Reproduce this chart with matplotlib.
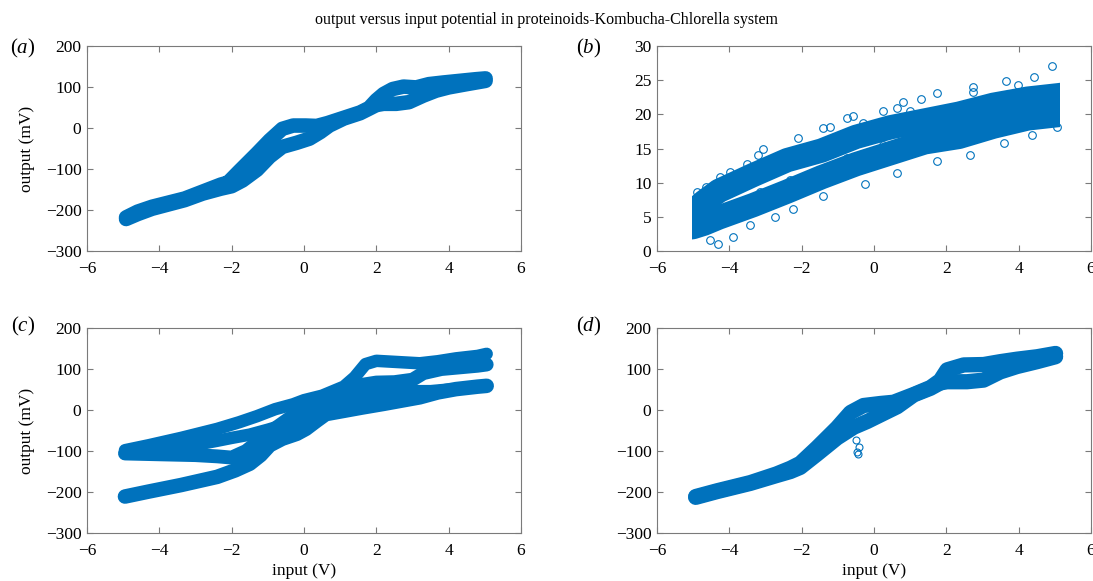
import matplotlib
matplotlib.use('Agg')
import matplotlib.pyplot as plt
from matplotlib.patches import Rectangle

plt.rcParams['font.family'] = ['Liberation Serif', 'DejaVu Serif']
plt.rcParams['mathtext.fontset'] = 'custom'
plt.rcParams['mathtext.rm'] = 'Liberation Serif'
plt.rcParams['mathtext.it'] = 'Liberation Serif:italic'

blue = '#0072BD'
edge = '#7a7a7a'

# (a) forward / backward sweeps
a_fwd_x = [-4.92, -4.6, -4.2, -3.3, -2.8, -2.3, -2.0, -1.7, -1.3, -0.95, -0.6, -0.2, 0.15, 0.45,
           0.7, 1.1, 1.55, 1.8, 2.0, 2.2, 2.55, 2.9, 3.3, 3.65, 4.0, 4.5, 5.02]
a_fwd_y = [-222, -210, -197, -176, -160, -148, -142, -128, -102, -70, -46, -36, -26, -10,
           6, 23, 36, 47, 56, 59, 59, 63, 79, 91, 99, 107, 115]
a_bwd_x = [5.02, 4.75, 4.3, 3.85, 3.45, 3.1, 2.75, 2.45, 2.2, 2.0, 1.8, 1.55, 1.1, 0.65,
           0.35, 0.05, -0.3, -0.6, -0.95, -1.3, -1.8, -2.1, -2.3, -2.8, -3.3, -4.2, -4.6, -4.92]
a_bwd_y = [121, 119, 115, 111, 107, 99, 101, 95, 83, 68, 49, 38, 25, 12,
           5, 6, 6, -2, -30, -62, -106, -133, -138, -155, -172, -192, -204, -218]

# (b) two branches plus scattered points
b_up_x = [-5.3, -5.0, -4.7, -4.29, -3.35, -2.40, -1.45, -0.50, 0.45, 1.40, 2.35, 3.30, 4.25, 5.10, 5.4]
b_up_y = [5.2, 5.8, 7.2, 8.8, 11.1, 13.3, 14.7, 16.7, 18.1, 19.1, 20.1, 21.4, 22.3, 22.8, 23.0]
b_lo_x = [-5.3, -5.0, -4.7, -4.29, -3.35, -2.40, -1.45, -0.50, 0.45, 1.40, 2.35, 3.30, 4.25, 5.10, 5.4]
b_lo_y = [3.3, 3.5, 4.0, 4.9, 6.7, 8.7, 10.8, 12.7, 14.3, 15.9, 16.7, 18.2, 19.4, 19.9, 20.1]
b_pts_x = [4.91, 4.42, 3.65, 3.99, 2.73, 2.73, 1.73, 1.29, 0.81, 0.63, 0.26, 0.99, -0.76, -0.57,
           -0.30, -1.40, -1.22, -2.09, -3.08, -3.20, -3.52, -3.98, -4.26, -4.65, -4.90, -4.30,
           -3.89, -4.53, -3.43, -2.74, -2.23, -1.40, -0.25, 0.63, 1.73, 2.65, 3.58, 4.36, 5.05,
           -1.77, -0.76, 0.26, -2.32, -3.15]
b_pts_y = [27.1, 25.4, 24.9, 24.3, 24.0, 23.3, 23.1, 22.2, 21.8, 21.0, 20.5, 20.5, 19.4, 19.7,
           18.7, 18.0, 18.2, 16.6, 14.9, 14.1, 12.7, 11.5, 10.9, 9.4, 8.6, 1.0,
           2.1, 1.6, 3.8, 5.0, 6.2, 8.0, 9.8, 11.4, 13.1, 14.0, 15.8, 17.0, 18.2,
           11.1, 13.6, 15.5, 10.4, 8.7]

# (c) several crossing paths
c_p1_x = [-4.95, -4.3, -3.4, -2.4, -1.8, -1.3, -0.8, -0.3, 0.0, 0.5, 1.1, 1.4, 1.7, 2.0, 2.6,
          3.2, 3.7, 4.2, 4.8, 5.05]
c_p1_y = [-98, -86, -68, -46, -30, -15, 2, 14, 24, 35, 57, 80, 112, 120, 117,
          114, 119, 126, 132, 137]
c_p2_x = [-4.95, -4.0, -3.0, -2.4, -2.0, -1.6, -1.2, -0.8, -0.4, 0.0, 0.5, 1.0, 1.5, 2.0, 2.5,
          3.0, 3.3, 3.8, 4.3, 4.8, 5.05]
c_p2_y = [-106, -108, -110, -113, -116, -100, -72, -45, -20, 5, 25, 45, 60, 67, 68,
          74, 90, 100, 104, 108, 111]
c_p3_x = [-4.95, -4.3, -3.4, -2.4, -1.9, -1.5, -1.2, -0.95, -0.6, -0.2, 0.05, 0.35, 0.6, 1.1,
          1.6, 2.2, 2.7, 3.2, 3.7, 4.2, 4.8, 5.05]
c_p3_y = [-211, -199, -183, -163, -147, -131, -110, -86, -70, -58, -46, -26, -10, -2,
          6, 15, 23, 31, 43, 51, 57, 59]
c_p4_x = [-4.95, -4.0, -3.0, -2.4, -2.0, -1.5, -1.0, -0.5, 0.0, 0.5, 1.0, 1.5, 2.0, 2.5, 3.0,
          3.5, 4.0]
c_p4_y = [-102, -95, -85, -75, -68, -60, -48, -35, -18, 0, 20, 35, 42, 45, 46,
          46, 50]

# (d) forward / backward sweeps plus a few stray points
d_fwd_x = [-4.93, -4.34, -3.42, -2.7, -2.31, -2.04, -1.58, -1.02, -0.56, -0.19, 0.27, 0.64,
           1.1, 1.56, 1.83, 2.02, 2.57, 3.03, 3.49, 3.95, 4.51, 5.02]
d_fwd_y = [-213, -199, -179, -160, -150, -140, -108, -68, -42, -28, -8, 8,
           37, 53, 66, 69, 69, 73, 93, 106, 118, 130]
d_bwd_x = [5.02, 4.51, 3.95, 3.49, 3.03, 2.48, 2.02, 1.83, 1.56, 1.1, 0.54, 0.18, -0.29,
           -0.65, -1.02, -1.58, -2.04, -2.31, -2.7, -3.42, -4.34, -4.93]
d_bwd_y = [138, 130, 124, 118, 111, 110, 98, 72, 55, 38, 19, 16, 11,
           -6, -43, -92, -130, -142, -156, -177, -197, -211]
d_pts_x = [-0.49, -0.41, -0.45, -0.47]
d_pts_y = [-73, -89, -108, -102]

fig = plt.figure(figsize=(10.93, 5.81), dpi=100)
rects = {'a': [0.0796, 0.5680, 0.3971, 0.3528], 'b': [0.6011, 0.5680, 0.3971, 0.3528],
         'c': [0.0796, 0.0826, 0.3971, 0.3528], 'd': [0.6011, 0.0826, 0.3971, 0.3528]}
axs = {k: fig.add_axes(r) for k, r in rects.items()}


def band(ax, x, y, w, cap='round'):
    ln, = ax.plot(x, y, color=blue, lw=w, solid_capstyle=cap, solid_joinstyle='round')
    return ln


band(axs['a'], a_fwd_x, a_fwd_y, 10.5)
band(axs['a'], a_bwd_x, a_bwd_y, 10.5)

# input limited to about +-5.1 V -> flat ends
clip = Rectangle((-5.03, -10), 10.18, 60, transform=axs['b'].transData)
for xs, ys in [(b_up_x, b_up_y), (b_lo_x, b_lo_y)]:
    band(axs['b'], xs, ys, 17.5, cap='butt').set_clip_path(clip)
axs['b'].plot(b_pts_x, b_pts_y, 'o', ms=5.5, mfc='none', mec=blue, mew=0.8)

band(axs['c'], c_p1_x, c_p1_y, 9)
band(axs['c'], c_p2_x, c_p2_y, 10)
band(axs['c'], c_p3_x, c_p3_y, 10.5)
band(axs['c'], c_p4_x, c_p4_y, 9)

band(axs['d'], d_fwd_x, d_fwd_y, 11)
band(axs['d'], d_bwd_x, d_bwd_y, 11)
axs['d'].plot(d_pts_x, d_pts_y, 'o', ms=5, mfc='none', mec=blue, mew=0.8)

for k, ax in axs.items():
    ax.set_xlim(-6, 6)
    ax.set_xticks([-6, -4, -2, 0, 2, 4, 6])
    if k == 'b':
        ax.set_ylim(0, 30)
        ax.set_yticks([0, 5, 10, 15, 20, 25, 30])
    else:
        ax.set_ylim(-300, 200)
        ax.set_yticks([-300, -200, -100, 0, 100, 200])
    ax.tick_params(direction='in', top=True, right=True, length=4, width=0.8,
                   color=edge, labelsize=12.5)
    ax.tick_params(axis='x', pad=7)
    ax.tick_params(axis='y', pad=4)
    for s in ax.spines.values():
        s.set_color(edge)
        s.set_linewidth(0.8)

axs['a'].set_ylabel('output (mV)', fontsize=12.5, labelpad=8)
axs['c'].set_ylabel('output (mV)', fontsize=12.5, labelpad=8)
axs['c'].set_xlabel('input (V)', fontsize=12.5, labelpad=3)
axs['d'].set_xlabel('input (V)', fontsize=12.5, labelpad=3)

fig.text(0.5, 1 - 20 / 581, 'output versus input potential in proteinoids-Kombucha-Chlorella system',
         ha='center', va='center', fontsize=11.5)
for lab, (px, py) in {'a': (23, 48), 'b': (589, 48), 'c': (23, 326), 'd': (589, 326)}.items():
    fig.text(px / 1093, 1 - py / 581, '$(' + lab + ')$', ha='center', va='center', fontsize=15)

fig.savefig('out.png', dpi=100)
